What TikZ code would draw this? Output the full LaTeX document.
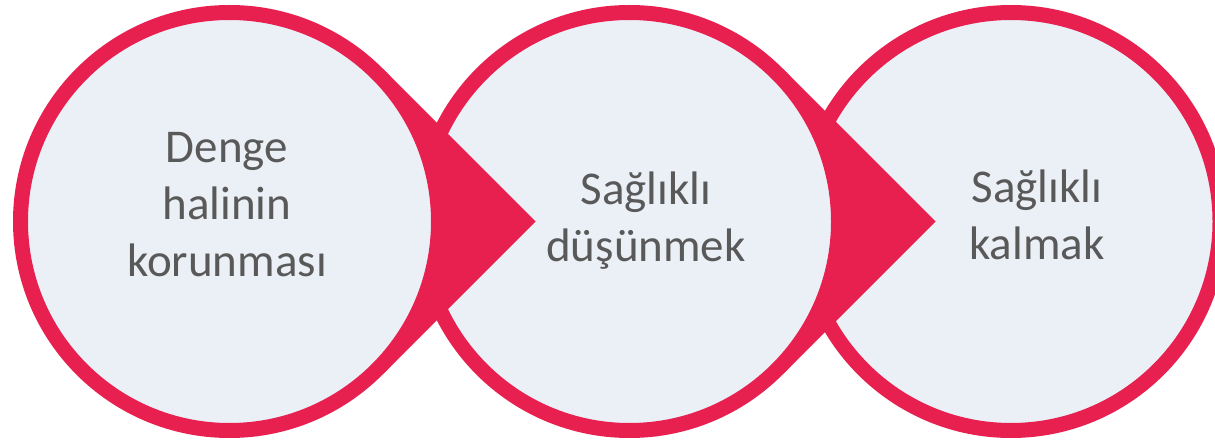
\documentclass[tikz,border=0pt]{standalone}
\usepackage{fontspec}
\setmainfont{Carlito}
\usetikzlibrary{calc}
\definecolor{ringred}{RGB}{232,32,80}
\definecolor{disc}{RGB}{235,240,247}
\definecolor{txt}{RGB}{89,89,89}
\tikzset{
  ring/.style={circle, draw=ringred, fill=disc, line width=15pt, minimum size=418pt, inner sep=0pt},
  wedge/.style={fill=ringred},
  label/.style={align=center, anchor=base, text=txt, font=\fontsize{47}{57}\selectfont, inner sep=0pt}
}
\begin{document}
\begin{tikzpicture}[x=1pt,y=1pt]
\useasboundingbox (0,0) rectangle (1215,442);
\def\R{216.5}
\coordinate (p1) at (229.5,220.5);
\coordinate (p2) at (629.5,220.5);
\coordinate (p3) at (1011,220.5);
% third circle (bottom layer)
\node[ring] (c3) at (p3) {};
% arrow from circle 2 into circle 3
\fill[wedge] ($(p2)+(45:\R)$) -- ($(p2)+(306.2,0)$) coordinate (tip2) -- ($(p2)+(-45:\R)$) -- cycle;
\node[ring] (c2) at (p2) {};
% arrow from circle 1 into circle 2
\fill[wedge] ($(p1)+(45:\R)$) -- ($(p1)+(306.2,0)$) coordinate (tip1) -- ($(p1)+(-45:\R)$) -- cycle;
\node[ring] (c1) at (p1) {};
% texts (base anchor = baseline of the last line)
\node[label] (t1) at (227,165.3) {Denge\\halinin\\korunması};
\node[label] (t2) at (646,180.3) {Sağlıklı\\düşünmek};
\node[label] (t3) at (1037,182) {Sağlıklı\\kalmak};
\end{tikzpicture}
\end{document}
